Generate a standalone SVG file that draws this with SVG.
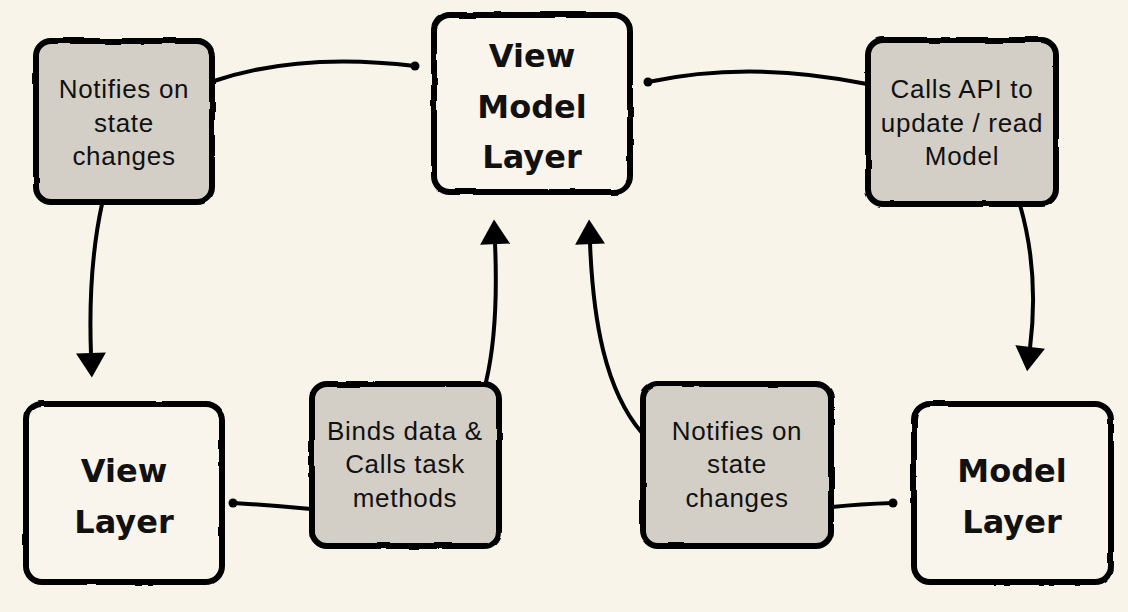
<svg xmlns="http://www.w3.org/2000/svg" width="1128" height="612" viewBox="0 0 1128 612">
  <defs>
    <filter id="rough" x="-5%" y="-5%" width="110%" height="110%">
      <feTurbulence type="fractalNoise" baseFrequency="0.04" numOctaves="2" seed="3" result="n"/>
      <feDisplacementMap in="SourceGraphic" in2="n" scale="2.5" xChannelSelector="R" yChannelSelector="G"/>
    </filter>
    <marker id="arrow" markerUnits="userSpaceOnUse" markerWidth="30" markerHeight="32" viewBox="0 -15 24 30" refX="1" refY="0" orient="auto">
      <path d="M0,-14 L23,0 L0,14 Z" fill="#000"/>
    </marker>
    <style>
      .box { stroke: #000; stroke-width: 6; filter: url(#rough); }
      .main { fill: #f9f5ec; }
      .note { fill: #d3cfc7; }
      .lbl { font-family: "Liberation Sans", Arial, sans-serif; font-size: 26px; letter-spacing: 0.7px; fill: #111; text-anchor: middle; }
      .big { font-family: "DejaVu Sans", "Open Sans", sans-serif; font-weight: bold; font-size: 32px; fill: #111; text-anchor: middle; }
      .conn { fill: none; stroke: #000; stroke-width: 4; stroke-linecap: round; }
    </style>
  </defs>
  <rect width="1128" height="612" fill="#f8f4ea"/>

  <g id="connectors">
    <path class="conn" d="M214,81 Q300,52 415,66"/>
    <circle cx="415" cy="66" r="4.5"/>
    <path class="conn" d="M648,82 Q750,60 867,84"/>
    <circle cx="648" cy="82" r="4.5"/>
    <path class="conn" d="M102,204 C92,250 89,300 91,354" marker-end="url(#arrow)"/>
    <path class="conn" d="M1020,205 C1033,250 1036,300 1030,348" marker-end="url(#arrow)"/>
    <path class="conn" d="M486,382 C496,340 497,290 495,243" marker-end="url(#arrow)"/>
    <path class="conn" d="M642,433 C605,390 593,320 590,243" marker-end="url(#arrow)"/>
    <path class="conn" d="M233,503 Q270,505 311,509"/>
    <circle cx="233" cy="503" r="4.5"/>
    <path class="conn" d="M832,507 Q860,504 893,503"/>
    <circle cx="893" cy="503" r="4.5"/>
  </g>

  <g id="viewmodel">
    <rect class="box main" x="434" y="15" width="196" height="177" rx="16"/>
    <text class="big" x="532" y="67">View</text>
    <text class="big" x="532" y="118">Model</text>
    <text class="big" x="532" y="168">Layer</text>
  </g>

  <g id="notify-top">
    <rect class="box note" x="36" y="41" width="176" height="161" rx="15"/>
    <text class="lbl" x="124" y="98">Notifies on</text>
    <text class="lbl" x="124" y="132">state</text>
    <text class="lbl" x="124" y="165">changes</text>
  </g>

  <g id="calls-api">
    <rect class="box note" x="868" y="40" width="188" height="164" rx="15"/>
    <text class="lbl" x="962" y="98">Calls API to</text>
    <text class="lbl" x="962" y="132">update / read</text>
    <text class="lbl" x="962" y="165">Model</text>
  </g>

  <g id="view">
    <rect class="box main" x="26" y="404" width="196" height="178" rx="16"/>
    <text class="big" x="124" y="482">View</text>
    <text class="big" x="124" y="533">Layer</text>
  </g>

  <g id="binds">
    <rect class="box note" x="312" y="384" width="187" height="162" rx="15"/>
    <text class="lbl" x="405" y="440">Binds data &amp;</text>
    <text class="lbl" x="405" y="473">Calls task</text>
    <text class="lbl" x="405" y="507">methods</text>
  </g>

  <g id="notify-bottom">
    <rect class="box note" x="643" y="384" width="188" height="162" rx="15"/>
    <text class="lbl" x="737" y="440">Notifies on</text>
    <text class="lbl" x="737" y="473">state</text>
    <text class="lbl" x="737" y="507">changes</text>
  </g>

  <g id="model">
    <rect class="box main" x="914" y="404" width="197" height="178" rx="16"/>
    <text class="big" x="1012" y="482">Model</text>
    <text class="big" x="1012" y="533">Layer</text>
  </g>
</svg>
